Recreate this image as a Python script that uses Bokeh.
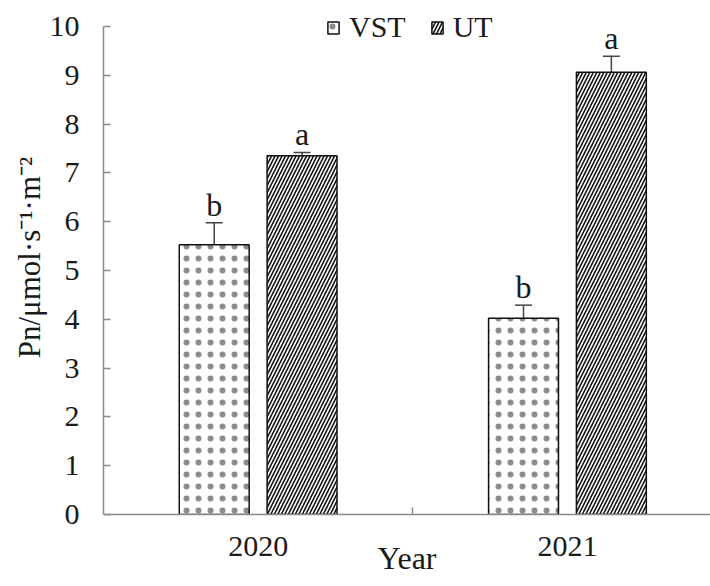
import numpy as np
from bokeh.plotting import figure
from bokeh.models import (ColumnDataSource, Whisker, TeeHead, FixedTicker, Legend,
                          LegendItem, Range1d)
from bokeh.core.properties import value
from bokeh.embed import file_html
from bokeh.resources import INLINE

# ---- data ----
years = ["2020", "2021"]
series = ["VST", "UT"]
vst = [5.53, 4.02]
vst_err = [0.45, 0.27]
ut = [7.35, 9.06]
ut_err = [0.07, 0.33]
vst_letters = ["b", "b"]
ut_letters = ["a", "a"]
y_ticks = list(range(0, 11))
y_max = 10

FONT = "Liberation Serif"
W, H = 710, 586
LEFT, BOTTOM = 103, 72
TOP_GAP = 26          # px between frame top and the y=10 tick
CAT_PX = 309.3        # px per category
PX_PER_UNIT = 48.8
x_end = (W - LEFT) / CAT_PX
y_end = y_max + TOP_GAP / PX_PER_UNIT

p = figure(width=W, height=H, output_backend="svg", toolbar_location=None,
           x_range=Range1d(0, x_end), y_range=Range1d(0, y_end),
           min_border_left=LEFT, min_border_right=0, min_border_top=0,
           min_border_bottom=BOTTOM)
p.outline_line_color = None
p.xgrid.visible = False
p.ygrid.visible = False
p.background_fill_color = "white"

centers = np.arange(len(years)) + 0.5
off, bw = 0.142, 0.226

src_v = ColumnDataSource(dict(x=centers - off, top=vst,
                              upper=np.array(vst) + np.array(vst_err),
                              lower=np.array(vst) - np.array(vst_err),
                              lab=vst_letters))
src_u = ColumnDataSource(dict(x=centers + off, top=ut,
                              upper=np.array(ut) + np.array(ut_err),
                              lower=np.array(ut) - np.array(ut_err),
                              lab=ut_letters))

r_v = p.vbar(x="x", top="top", bottom=0, width=bw, source=src_v,
             fill_color="white", line_color="#111111", line_width=1.5,
             hatch_pattern="dot", hatch_scale=12,
             hatch_color="#8c8c8c", hatch_weight=1)
r_u = p.vbar(x="x", top="top", bottom=0, width=bw, source=src_u,
             fill_color="white", line_color="#111111", line_width=1.5,
             hatch_pattern="right_diagonal_line", hatch_scale=7,
             hatch_color="#111111", hatch_weight=1.6)

for src in (src_v, src_u):
    p.add_layout(Whisker(source=src, base="x", upper="upper", lower="lower",
                         line_color="#444444", line_width=1.5,
                         upper_head=TeeHead(size=17, line_color="#444444", line_width=1.5),
                         lower_head=TeeHead(size=17, line_color="#444444", line_width=1.5)))
    p.text(x="x", y="upper", text="lab", source=src, text_align="center",
           text_baseline="alphabetic", y_offset=-18, text_font=value(FONT),
           text_font_size="32px", text_color="#1a1a1a")

legend = Legend(items=[LegendItem(label=series[0], renderers=[r_v]),
                       LegendItem(label=series[1], renderers=[r_u])],
                orientation="horizontal", location=(223, 470),
                padding=0, margin=0, spacing=24, label_standoff=9,
                glyph_width=14, glyph_height=15,
                label_text_font=FONT, label_text_font_size="30px",
                label_text_color="#1a1a1a",
                background_fill_alpha=0, border_line_alpha=0)
p.add_layout(legend)

AX = "#8a8a8a"
ya = p.yaxis[0]
ya.ticker = FixedTicker(ticks=y_ticks)
ya.bounds = (0, y_max)
ya.major_tick_in = 7
ya.major_tick_out = 0
ya.minor_tick_in = 0
ya.minor_tick_out = 0
ya.axis_line_color = AX
ya.axis_line_width = 1.5
ya.major_tick_line_color = AX
ya.major_tick_line_width = 1.5
ya.major_label_standoff = 24
ya.major_label_text_font = FONT
ya.major_label_text_font_size = "30px"
ya.major_label_text_color = "#1a1a1a"
ya.axis_label = "Pn/\u03bcmol\u00b7s\u207b\u00b9\u00b7m\u207b\u00b2"
ya.axis_label_text_font = FONT
ya.axis_label_text_font_size = "31px"
ya.axis_label_text_font_style = "normal"
ya.axis_label_text_color = "#1a1a1a"
ya.axis_label_standoff = 0

xa = p.xaxis[0]
xa.ticker = FixedTicker(ticks=list(centers), minor_ticks=list(range(1, len(years))))
xa.major_label_overrides = {float(c): y for c, y in zip(centers, years)}
xa.bounds = (0, len(years))
xa.major_tick_in = 0
xa.major_tick_out = 0
xa.minor_tick_in = 7
xa.minor_tick_out = 0
xa.minor_tick_line_color = AX
xa.minor_tick_line_width = 1.5
xa.axis_line_color = AX
xa.axis_line_width = 1.5
xa.major_label_standoff = 22
xa.major_label_text_font = FONT
xa.major_label_text_font_size = "30px"
xa.major_label_text_color = "#1a1a1a"
xa.axis_label = "Year"
xa.axis_label_text_font = FONT
xa.axis_label_text_font_size = "32px"
xa.axis_label_text_font_style = "normal"
xa.axis_label_text_color = "#1a1a1a"
xa.axis_label_standoff = -19

open("out.html", "w").write(file_html(p, INLINE))
